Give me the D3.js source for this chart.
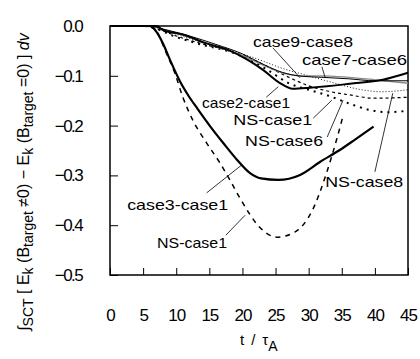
<!DOCTYPE html>
<html>
<head>
<meta charset="utf-8">
<script src="https://cdn.jsdelivr.net/npm/d3@7"></script>
<style>
  body { margin: 0; background: #fff; }
  svg { display: block; font-family: "Liberation Sans", Arial, sans-serif; }
  .tick text { fill: #000; }
</style>
</head>
<body>
<div id="chart"></div>
<script>
// time axis t / tau_A and integrated energy difference values
const xTicks = [0, 5, 10, 15, 20, 25, 30, 35, 40, 45];
const yTicks = [0, -0.1, -0.2, -0.3, -0.4, -0.5];

const case3case1 = [[0,0],[6,0],[6.8,-0.008],[8,-0.035],[9.06,-0.068],[10.6,-0.112],[11.8,-0.139],
  [13.2,-0.166],[15.1,-0.201],[17.1,-0.235],[19.2,-0.269],[21.1,-0.295],[22.8,-0.306],[25.4,-0.309],
  [28.7,-0.299],[31.7,-0.273],[34.7,-0.249],[37,-0.228],[39.8,-0.202]];
const nsCase1Low = [[0,0],[6,0],[7.2,-0.014],[8.3,-0.048],[9.8,-0.095],[11,-0.143],[12.5,-0.189],
  [14.6,-0.235],[16.6,-0.275],[18.1,-0.309],[19.6,-0.345],[22.6,-0.404],[25.2,-0.424],[27.9,-0.414],
  [30.6,-0.369],[32.7,-0.295],[34.2,-0.229],[35.2,-0.18]];
const case2case1 = [[0,0],[7,0],[8,-0.008],[11.3,-0.018],[14.3,-0.034],[17.8,-0.048],[20.8,-0.068],
  [23.1,-0.088],[25.6,-0.114],[27.6,-0.126],[30.2,-0.124],[36.2,-0.116],[41.2,-0.108],[45,-0.094]];
const case9case8 = [[0,0],[6,0],[8,-0.006],[12,-0.02],[16,-0.037],[20,-0.056],[23,-0.076],[26,-0.093],
  [29,-0.101],[32,-0.103],[36,-0.106],[40,-0.11],[45,-0.11]];
const case7case6 = [[0,0],[6,0],[8,-0.007],[12,-0.023],[16,-0.041],[20,-0.059],[23,-0.078],[26,-0.094],
  [29,-0.1],[32,-0.1],[36,-0.103],[40,-0.108],[45,-0.115]];
const nsCase1Up = [[0,0],[5,0],[7,-0.005],[10,-0.02],[14,-0.036],[18,-0.05],[21,-0.064],[24,-0.083],
  [27,-0.103],[30,-0.12],[33,-0.131],[36,-0.138],[40,-0.145],[45,-0.143]];
const nsCase6 = [[0,0],[5,0],[7,-0.006],[10,-0.022],[14,-0.038],[18,-0.051],[21,-0.067],[24,-0.09],
  [27,-0.115],[30,-0.128],[33,-0.14],[36,-0.155],[39,-0.168],[42,-0.173],[45,-0.17]];
const nsCase8 = [[0,0],[5,0],[8,-0.008],[12,-0.025],[16,-0.04],[20,-0.056],[23,-0.07],[26,-0.085],
  [30,-0.1],[34,-0.115],[38,-0.128],[41,-0.132],[45,-0.128]];

// label text, anchor (t, v) and leader line ends
const labelNames = ['case9-case8','case7-case6','case2-case1','NS-case1','NS-case6','NS-case8','case3-case1','NS-case1'];
const labelPos = [[21.6,-0.042],[29.0,-0.078],[13.9,-0.165],[18.6,-0.199],[20.4,-0.241],[32.5,-0.323],[2.6,-0.369],[7.1,-0.446]];
const labelWidths = [100,105,88,79,78,78,101,70];
const leaders = [
  [[24.6,-0.044],[28.7,-0.104]],
  [[32,-0.082],[32.5,-0.104]],
  [[23.6,-0.143],[25.4,-0.122]],
  [[30.7,-0.185],[33.5,-0.149]],
  [[32.8,-0.223],[35.2,-0.149]],
  [[40,-0.293],[42.7,-0.135]],
  [[14.6,-0.335],[19.9,-0.279]],
  [[17.5,-0.42],[20.4,-0.38]]
];

const width = 420, height = 359;
const svg = d3.select('#chart').append('svg')
    .attr('width', width)
    .attr('height', height);

const x = d3.scaleLinear().domain([0, 45]).range([110, 408]);
const y = d3.scaleLinear().domain([-0.5, 0]).range([275, 26]);

// axes (ticks point inward)
svg.append('g')
    .attr('transform', `translate(0,${y(-0.5)})`)
    .call(d3.axisBottom(x).tickValues(xTicks).tickSize(-7).tickPadding(34))
    .call(g => g.select('.domain').remove())
    .call(g => g.selectAll('text').style('font-size', '17px').attr('letter-spacing', '-1px'));

svg.append('g')
    .attr('transform', `translate(${x(0)},0)`)
    .call(d3.axisLeft(y).tickValues(yTicks).tickSize(-8).tickPadding(28)
        .tickFormat(d => d === 0 ? '0.0' : d3.format('.1f')(d).replace('-', '\u2212')))
    .call(g => g.select('.domain').remove())
    .call(g => g.selectAll('text').style('font-size', '17px').attr('letter-spacing', '-1.6px'));

// frame
svg.append('rect')
    .attr('x', x(0)).attr('y', y(0))
    .attr('width', x(45) - x(0)).attr('height', y(-0.5) - y(0))
    .attr('fill', 'none').attr('stroke', '#000').attr('stroke-width', 1.5);

const line = d3.line()
    .x(d => x(d[0]))
    .y(d => y(d[1]))
    .curve(d3.curveMonotoneX);

const series = [
  { data: nsCase8, w: 0.9, dash: '1,2', color: '#000' },
  { data: nsCase1Up, w: 1.2, dash: '3,3', color: '#000' },
  { data: nsCase6, w: 2, dash: '2,5', color: '#000' },
  { data: case7case6, w: 1.3, dash: null, color: '#8a8a8a' },
  { data: case9case8, w: 1, dash: null, color: '#000' },
  { data: case2case1, w: 2, dash: null, color: '#000' },
  { data: nsCase1Low, w: 1.5, dash: '5,5', color: '#000' },
  { data: case3case1, w: 2.2, dash: null, color: '#000' }
];

svg.append('g').selectAll('path')
    .data(series)
    .join('path')
    .attr('d', d => line(d.data))
    .attr('fill', 'none')
    .attr('stroke', d => d.color)
    .attr('stroke-width', d => d.w)
    .attr('stroke-dasharray', d => d.dash);

// leader lines and labels
svg.append('g').selectAll('line')
    .data(leaders)
    .join('line')
    .attr('x1', d => x(d[0][0])).attr('y1', d => y(d[0][1]))
    .attr('x2', d => x(d[1][0])).attr('y2', d => y(d[1][1]))
    .attr('stroke', '#000').attr('stroke-width', 0.8);

svg.append('g').selectAll('text')
    .data(labelNames)
    .join('text')
    .attr('x', (d, i) => x(labelPos[i][0]))
    .attr('y', (d, i) => y(labelPos[i][1]))
    .attr('textLength', (d, i) => labelWidths[i])
    .attr('lengthAdjust', 'spacingAndGlyphs')
    .style('font-size', '15px')
    .text(d => d);

// x axis title
const xt = svg.append('text')
    .attr('x', 240).attr('y', 345)
    .style('font-size', '15px');
xt.append('tspan').text('t');
xt.append('tspan').attr('dx', 7).text('/');
xt.append('tspan').attr('dx', 7).text('\u03C4');
xt.append('tspan').attr('dy', 6).style('font-size', '14px').text('A');

// y axis title
const yt = svg.append('text')
    .attr('transform', 'translate(29,182) rotate(-90)')
    .attr('text-anchor', 'middle')
    .style('font-size', '16px');
const parts = [
  ['\u222B', 0], ['SCT', 4], [' [ E', -4], ['k', 4], [' (B', -4], ['target', 4],
  [' \u22600) \u2212 E', -4], ['k', 4], [' (B', -4], ['target', 4], [' =0) ] ', -4]
];
parts.forEach(p => {
  yt.append('tspan').attr('dy', p[1])
    .style('font-size', p[1] > 0 ? '14px' : '16px')
    .text(p[0]);
});
yt.append('tspan').style('font-style', 'italic').text('dv');
</script>
</body>
</html>
